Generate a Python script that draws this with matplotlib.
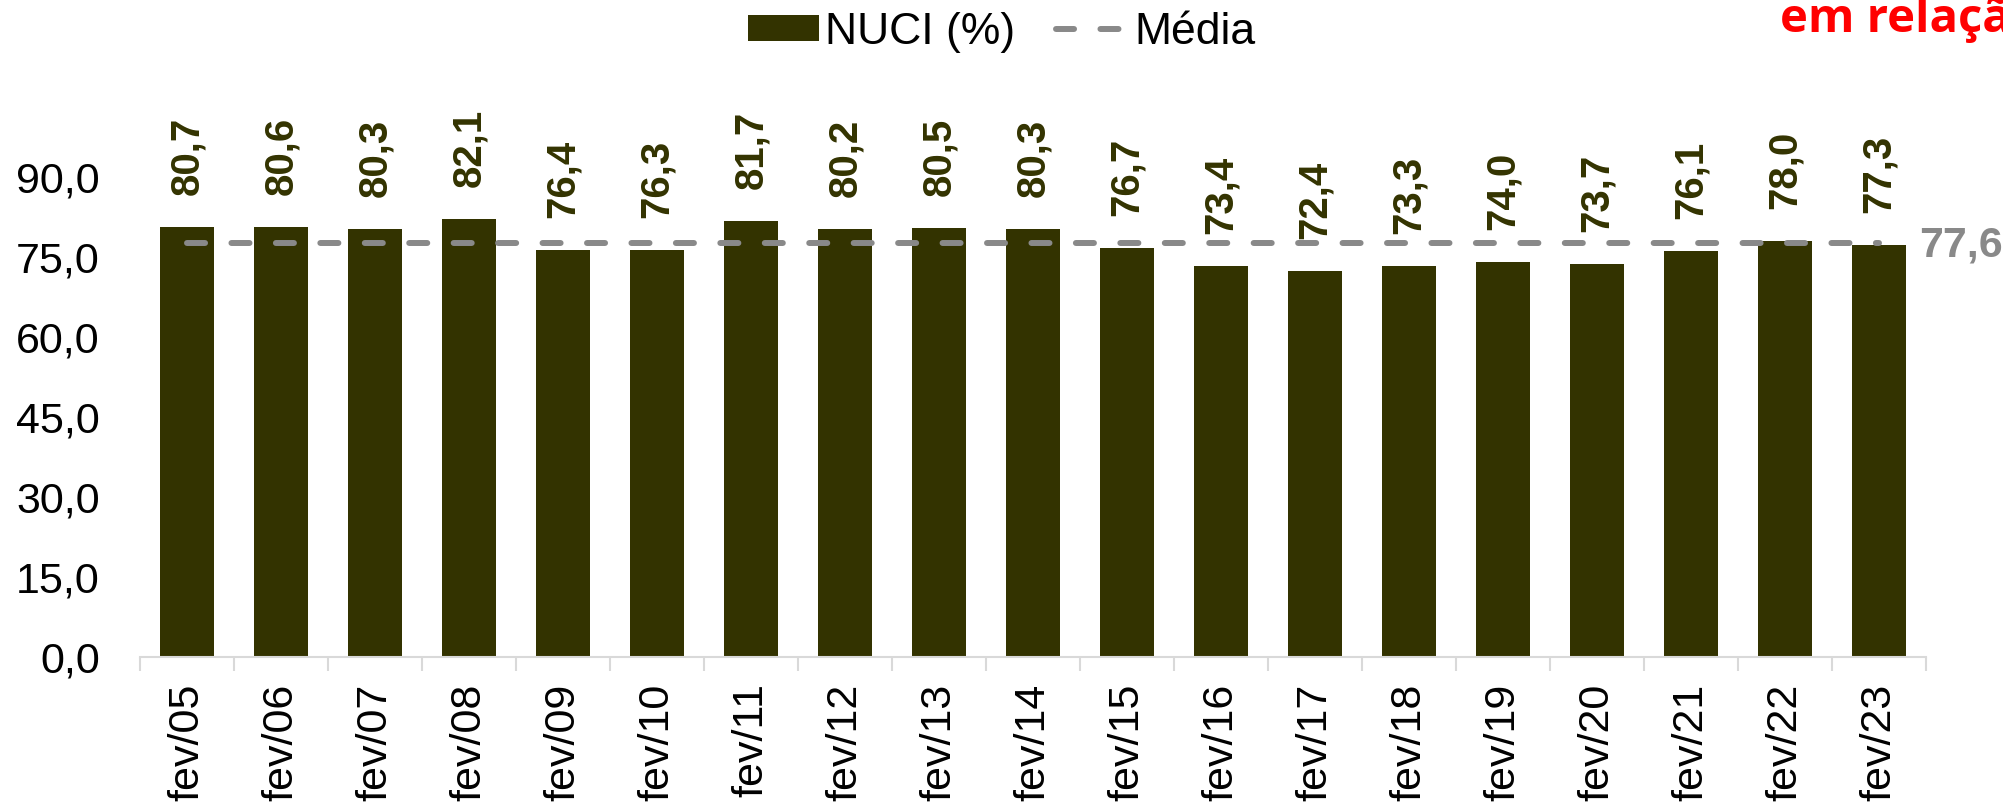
import matplotlib.pyplot as plt
import numpy as np

# dados
categorias = ['fev/05', 'fev/06', 'fev/07', 'fev/08', 'fev/09', 'fev/10', 'fev/11',
              'fev/12', 'fev/13', 'fev/14', 'fev/15', 'fev/16', 'fev/17', 'fev/18',
              'fev/19', 'fev/20', 'fev/21', 'fev/22', 'fev/23']
nuci = [80.7, 80.6, 80.3, 82.1, 76.4, 76.3, 81.7, 80.2, 80.5, 80.3,
        76.7, 73.4, 72.4, 73.3, 74.0, 73.7, 76.1, 78.0, 77.3]
media = 77.6
yticks = [0, 15, 30, 45, 60, 75, 90]
ytick_labels = ['0,0', '15,0', '30,0', '45,0', '60,0', '75,0', '90,0']

plt.rcParams['font.family'] = ['Liberation Sans', 'DejaVu Sans']
plt.rcParams['lines.scale_dashes'] = False

cor_barra = '#333300'
cor_media = '#898989'

fig = plt.figure(figsize=(20.03, 8.07), dpi=100)
ax = fig.add_axes([140 / 2003, 150 / 807, 1786 / 2003, 533.3 / 807])

x = np.arange(len(categorias))
barras = ax.bar(x, nuci, width=0.585, color=cor_barra, label='NUCI (%)', zorder=2)
linha, = ax.plot([x[0], x[-1]], [media, media], color=cor_media, linewidth=4.3,
                 dashes=(13, 19), dash_capstyle='round', label='Média', zorder=3)

# rótulos das barras
for xi, v in zip(x, nuci):
    ax.text(xi, v + 6, f'{v:.1f}'.replace('.', ','), rotation=90, ha='center',
            va='bottom', fontsize=29, fontweight='bold', color=cor_barra,
            clip_on=False)

ax.annotate(f'{media:.1f}'.replace('.', ','), (x[-1], media), xytext=(29, -2),
            textcoords='offset points', ha='left', va='center', fontsize=31,
            fontweight='bold', color=cor_media, annotation_clip=False)

ax.set_xlim(-0.5, len(categorias) - 0.5)
ax.set_ylim(0, 100)
ax.set_xticks(x)
ax.set_xticklabels(categorias, rotation=90, fontsize=31)
ax.set_xticks(np.arange(-0.5, len(categorias)), minor=True)
ax.tick_params(axis='x', which='major', length=0, pad=19)
ax.tick_params(axis='x', which='minor', length=10, width=1.5, color='#d9d9d9')
ax.set_yticks(yticks)
ax.set_yticklabels(ytick_labels, fontsize=31)
ax.tick_params(axis='y', length=0, pad=29)

for s in ['top', 'right', 'left']:
    ax.spines[s].set_visible(False)
ax.spines['bottom'].set_color('#d9d9d9')
ax.spines['bottom'].set_linewidth(1.5)

fig.legend([barras, linha], ['NUCI (%)', 'Média'], loc='center',
           bbox_to_anchor=(0.5, 0.96), ncol=2, frameon=False,
           fontsize=32, handlelength=1.6, handleheight=0.52, handletextpad=0.15,
           columnspacing=0.92, borderpad=0.2)

fig.text(1780 / 2003, 1 - 32 / 807, 'em relação', color='red', fontsize=34,
         fontweight='bold', family='Open Sans', ha='left', va='baseline')

fig.savefig('out.png', dpi=100)
